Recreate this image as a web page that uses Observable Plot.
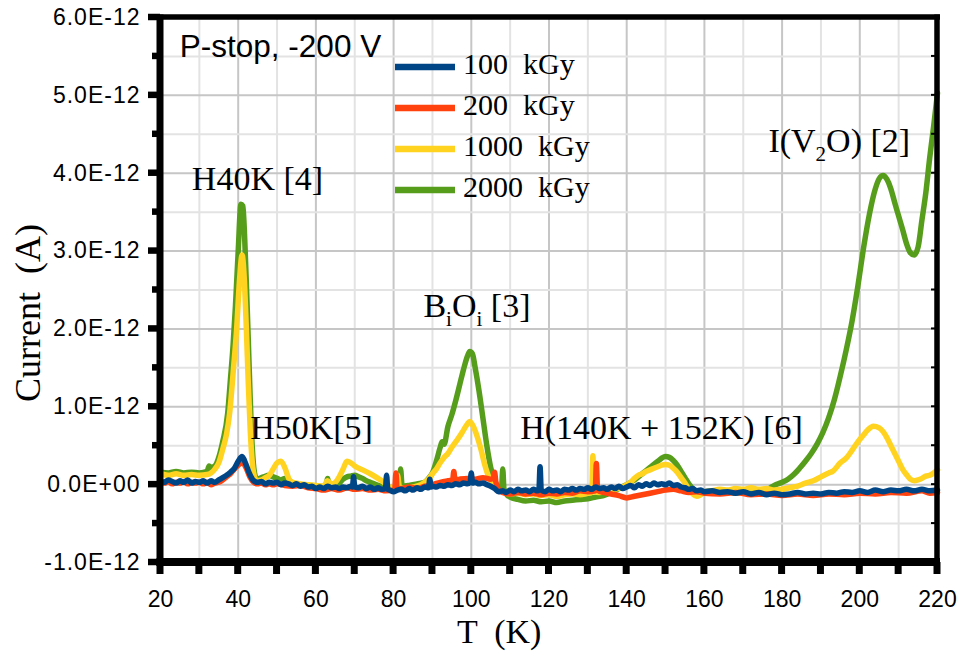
<!DOCTYPE html>
<html><head><meta charset="utf-8">
<script src="https://cdn.jsdelivr.net/npm/d3@7"></script>
<script src="https://cdn.jsdelivr.net/npm/@observablehq/plot@0.6"></script>
<style>body{margin:0;background:#fff}#chart{width:962px;height:651px}</style>
</head><body><div id="chart"></div>
<script>
// Current in units of 1E-12 A, temperature in K
const seriesNames = ["100  kGy", "200  kGy", "1000  kGy", "2000  kGy"];
const seriesColors = ["#004586", "#ff420e", "#ffd320", "#579d1c"];
const xTicksMajor = [20, 40, 60, 80, 100, 120, 140, 160, 180, 200, 220];
const xTicksMinor = [30, 50, 70, 90, 110, 130, 150, 170, 190, 210];
const yTicksMajor = [-1, 0, 1, 2, 3, 4, 5, 6];
const yTicksMinor = [-0.5, 0.5, 1.5, 2.5, 3.5, 4.5, 5.5];

const series100 = [[20,0.05],[21,0.03],[22,0.06],[23,0.04],[24,0.02],[25,0.05],[26,0.03],[27,0.06],[28,0.02],[29,0.04],[30,0.03],[31,0.05],[32,0.02],[33,0.05],[34,0.03],[35,0.06],[36,0.09],[37,0.12],[38,0.16],[39,0.21],[40,0.30],[41,0.36],[42,0.26],[43,0.13],[44,0.05],[45,0.03],[46,0.04],[47,0.01],[48,0.03],[49,0.02],[50,0.03],[51,0.00],[52,0.02],[53,0.01],[54,-0.01],[55,0.01],[56,-0.02],[57,0.00],[58,-0.03],[59,-0.02],[60,-0.05],[61,-0.03],[62,-0.05],[63,-0.02],[64,-0.04],[65,-0.03],[66,-0.05],[67,-0.03],[68,-0.04],[69,-0.02],[69.4,-0.03],[69.7,0.10],[70,-0.03],[71,-0.04],[72,-0.02],[73,-0.05],[74,-0.03],[75,-0.06],[76,-0.04],[77,-0.06],[77.9,-0.05],[78.2,0.12],[78.5,-0.06],[79,-0.07],[80,-0.09],[81,-0.07],[82,-0.06],[83,-0.08],[84,-0.05],[85,-0.07],[86,-0.04],[87,-0.06],[88,-0.03],[89,-0.04],[89.3,0.07],[89.7,-0.03],[90,-0.02],[91,-0.03],[92,-0.01],[93,-0.02],[94,0.00],[95,-0.01],[96,0.01],[97,0.00],[98,0.02],[99,0.01],[99.7,0.03],[100,0.15],[100.3,0.02],[101,0.03],[102,0.01],[103,0.02],[104,0.00],[105,-0.02],[106,-0.05],[107,-0.09],[108,-0.08],[109,-0.10],[110,-0.07],[111,-0.09],[112,-0.06],[113,-0.08],[114,-0.07],[115,-0.09],[116,-0.06],[117,-0.08],[117.4,-0.07],[117.7,0.23],[118,-0.07],[119,-0.09],[120,-0.06],[121,-0.08],[122,-0.07],[123,-0.09],[124,-0.06],[125,-0.07],[126,-0.05],[127,-0.07],[128,-0.05],[129,-0.06],[130,-0.04],[131,-0.06],[132,-0.03],[133,-0.05],[134,-0.04],[135,-0.06],[136,-0.03],[137,-0.05],[138,-0.02],[139,-0.05],[140,-0.03],[141,-0.01],[142,-0.04],[143,0.00],[144,-0.02],[145,0.01],[146,-0.01],[147,0.02],[148,0.00],[149,0.01],[150,0.00],[151,0.02],[152,-0.01],[153,0.00],[154,-0.03],[155,-0.04],[156,-0.06],[157,-0.05],[158,-0.08],[159,-0.07],[160,-0.09],[162,-0.08],[164,-0.10],[166,-0.09],[168,-0.11],[170,-0.09],[172,-0.12],[174,-0.10],[176,-0.13],[178,-0.11],[180,-0.13],[182,-0.12],[184,-0.10],[186,-0.12],[188,-0.11],[190,-0.12],[192,-0.10],[194,-0.11],[196,-0.09],[198,-0.10],[200,-0.08],[202,-0.10],[204,-0.07],[206,-0.09],[208,-0.07],[210,-0.08],[212,-0.06],[214,-0.08],[216,-0.06],[218,-0.08],[220,-0.07]];

const series200 = [[20,0.03],[21,0.02],[22,0.04],[23,0.01],[24,0.03],[25,0.02],[26,0.04],[27,0.01],[28,0.03],[29,0.02],[30,0.03],[31,0.01],[32,0.03],[33,0.00],[34,0.02],[35,0.03],[36,0.06],[37,0.10],[38,0.14],[39,0.20],[40,0.25],[41,0.29],[42,0.22],[43,0.10],[44,0.03],[45,0.01],[46,0.02],[47,0.00],[48,0.01],[49,0.00],[50,0.01],[52,-0.01],[54,-0.02],[56,-0.01],[58,-0.04],[60,-0.05],[62,-0.07],[64,-0.05],[66,-0.07],[68,-0.04],[70,-0.06],[72,-0.05],[74,-0.07],[76,-0.06],[78,-0.08],[80,-0.07],[80.3,-0.06],[80.6,0.15],[80.9,-0.06],[82,-0.05],[84,-0.03],[86,-0.05],[88,-0.02],[90,0.00],[92,0.03],[94,0.05],[95.2,0.06],[95.5,0.17],[95.8,0.06],[97,0.07],[99,0.08],[101,0.07],[103,0.09],[105,0.07],[105.7,0.08],[106,0.16],[106.3,0.04],[107,-0.06],[108,-0.10],[110,-0.12],[112,-0.10],[114,-0.12],[116,-0.11],[118,-0.13],[120,-0.11],[122,-0.12],[124,-0.10],[126,-0.11],[128,-0.08],[130,-0.09],[131.9,-0.08],[132.2,0.27],[132.5,-0.07],[134,-0.10],[136,-0.12],[138,-0.14],[140,-0.17],[142,-0.15],[144,-0.13],[146,-0.11],[148,-0.09],[150,-0.07],[152,-0.06],[154,-0.08],[156,-0.10],[158,-0.09],[160,-0.11],[164,-0.12],[168,-0.10],[172,-0.13],[176,-0.12],[180,-0.14],[184,-0.12],[188,-0.14],[192,-0.12],[196,-0.13],[200,-0.11],[204,-0.12],[208,-0.10],[212,-0.11],[216,-0.08],[218,-0.11],[220,-0.10]];

const series1000 = [[20,0.14],[22,0.12],[24,0.14],[26,0.12],[28,0.13],[30,0.12],[32,0.13],[33,0.15],[34,0.20],[35,0.28],[36,0.45],[37,0.65],[37.8,0.92],[38.8,1.50],[39.6,2.00],[40.3,2.60],[41,2.95],[41.5,2.70],[42.1,2.00],[42.6,1.30],[43.1,0.70],[43.6,0.30],[44.2,0.10],[44.8,0.05],[46,0.06],[47,0.09],[48,0.12],[49,0.20],[50,0.28],[51,0.30],[52,0.22],[53,0.08],[54,0.03],[55,0.02],[56,0.01],[58,0.00],[60,-0.01],[62,-0.02],[63,0.05],[64,0.01],[65,0.03],[66,0.10],[67,0.20],[68,0.30],[69,0.28],[70,0.24],[72,0.19],[74,0.14],[76,0.08],[77.5,0.03],[78.5,-0.02],[80,-0.04],[80.7,-0.03],[81,0.12],[81.5,-0.03],[83,-0.05],[85,-0.03],[87,0.00],[88,0.03],[89,0.07],[90,0.14],[91,0.20],[92,0.28],[93,0.35],[94,0.40],[95,0.48],[96,0.55],[97,0.62],[98,0.70],[99,0.78],[99.6,0.81],[100.5,0.75],[101.5,0.62],[102.5,0.45],[103.5,0.25],[104.5,0.10],[105.5,0.02],[106.5,-0.05],[108,-0.09],[110,-0.12],[112,-0.11],[114,-0.13],[116,-0.12],[118,-0.14],[120,-0.13],[122,-0.15],[124,-0.13],[126,-0.12],[128,-0.13],[130,-0.11],[131,-0.10],[131.3,0.37],[131.6,-0.09],[133,-0.10],[135,-0.08],[137,-0.06],[139,-0.03],[140,0.00],[141,0.03],[142,0.08],[143,0.12],[144,0.14],[145,0.17],[146,0.19],[147,0.21],[148,0.23],[149,0.25],[150,0.26],[151,0.25],[152,0.21],[153,0.16],[154,0.09],[155,0.02],[156,-0.06],[157,-0.12],[158,-0.15],[159,-0.13],[160,-0.10],[162,-0.08],[164,-0.06],[166,-0.07],[168,-0.05],[170,-0.06],[172,-0.04],[174,-0.06],[176,-0.05],[178,-0.07],[180,-0.06],[182,-0.04],[184,-0.02],[186,0.02],[188,0.05],[190,0.10],[192,0.15],[193,0.17],[195,0.28],[196.5,0.34],[198,0.44],[199.5,0.55],[201,0.64],[202,0.70],[203.5,0.75],[205,0.73],[206,0.68],[207,0.60],[208,0.50],[209,0.40],[210,0.30],[211,0.20],[212,0.13],[213,0.07],[214,0.05],[215,0.06],[216,0.08],[217,0.11],[218,0.12],[219,0.15],[220,0.19]];

const series2000 = [[20,0.16],[22,0.15],[24,0.17],[26,0.15],[28,0.16],[30,0.15],[32,0.17],[32.5,0.24],[33,0.22],[34,0.24],[35,0.35],[36,0.55],[37.3,0.92],[38,1.35],[38.7,1.80],[39.3,2.30],[40,3.00],[40.7,3.60],[41.2,3.58],[41.8,3.00],[42.3,2.30],[42.7,1.70],[43.1,1.10],[43.6,0.50],[44.2,0.15],[44.8,0.07],[45.5,0.08],[46.5,0.10],[48,0.12],[49,0.10],[50,0.08],[51,0.06],[52,0.08],[53,0.05],[54,0.02],[56,0.00],[58,-0.02],[60,-0.04],[62,-0.03],[62.7,-0.02],[63,0.08],[63.4,-0.02],[66,0.02],[67,0.07],[68,0.10],[69,0.11],[70,0.12],[71,0.10],[72,0.08],[73,0.05],[74,0.03],[76,-0.01],[78,-0.04],[80,-0.05],[81.5,-0.03],[81.8,0.20],[82.2,-0.02],[84,-0.01],[86,0.01],[88,0.03],[89,0.08],[90,0.15],[91,0.30],[92,0.48],[92.5,0.55],[93,0.52],[94,0.75],[95,0.90],[96,1.08],[97,1.28],[98,1.48],[99,1.65],[99.6,1.71],[100.3,1.68],[101,1.50],[102,1.20],[103,0.85],[104,0.50],[105,0.22],[106,0.05],[107,-0.03],[107.8,-0.02],[108.1,0.20],[108.4,-0.05],[109,-0.12],[110,-0.16],[112,-0.19],[114,-0.21],[116,-0.20],[118,-0.22],[120,-0.21],[122,-0.23],[124,-0.21],[126,-0.20],[128,-0.19],[130,-0.18],[132,-0.16],[134,-0.14],[136,-0.10],[138,-0.05],[140,0.00],[142,0.06],[144,0.14],[146,0.22],[148,0.30],[150,0.36],[151,0.35],[152,0.31],[153,0.25],[154,0.17],[155,0.09],[156,0.01],[157,-0.05],[158,-0.08],[160,-0.09],[162,-0.08],[164,-0.10],[166,-0.09],[168,-0.11],[170,-0.10],[172,-0.11],[174,-0.09],[176,-0.07],[177,-0.04],[178,-0.01],[180,0.03],[181.5,0.07],[183,0.13],[184.5,0.21],[186,0.30],[187.5,0.40],[189,0.52],[190.5,0.67],[192,0.86],[193.5,1.10],[195,1.40],[196.5,1.73],[198,2.10],[199.5,2.55],[201,3.05],[202.5,3.48],[204,3.80],[205,3.93],[206,3.97],[207,3.92],[208,3.80],[209,3.62],[210,3.45],[211,3.28],[212,3.10],[213,2.98],[214,2.95],[215,3.05],[216,3.40],[217,3.75],[218,4.20],[219,4.60],[220,5.03]];

// annotation anchors (data coordinates: K, 1E-12 A)
const annotations = [
  {T: 28.2, I: 3.78, parts: [["H40K [4]", false]]},
  {T: 43.2, I: 0.58, parts: [["H50K[5]", false]]},
  {T: 87.8, I: 2.15, parts: [["B", false], ["i", true], ["O", false], ["i", true], [" [3]", false]]},
  {T: 112.7, I: 0.58, parts: [["H(140K + 152K) [6]", false]]},
  {T: 176.6, I: 4.27, parts: [["I(V", false], ["2", true], ["O) [2]", false]]}
];
const conditionLabel = {T: 25.1, I: 5.49, text: "P-stop, -200 V"};

const allSeries = [series100, series200, series1000, series2000];
const rows = allSeries.map((s, k) => s.map(([T, I]) => ({T, I, s: seriesNames[k]})));
const fmt = v => v === 0 ? "0.0E+00" : `${v.toFixed(1)}E-12`;

const plot = Plot.plot({
  width: 962, height: 651,
  marginLeft: 160, marginRight: 25, marginTop: 17, marginBottom: 89,
  x: {domain: [20, 220], label: null},
  y: {domain: [-1, 6], label: null},
  style: {fontFamily: "'Liberation Sans', Arial, sans-serif", fontSize: "23px", background: "#fff", color: "#000", overflow: "visible"},
  marks: [
    Plot.gridX(xTicksMinor, {stroke: "#e3e3e3", strokeOpacity: 1, strokeWidth: 2}),
    Plot.gridX(xTicksMajor, {stroke: "#c6c6c6", strokeOpacity: 1, strokeWidth: 2}),
    Plot.gridY(yTicksMinor, {stroke: "#e3e3e3", strokeOpacity: 1, strokeWidth: 2}),
    Plot.gridY(yTicksMajor, {stroke: "#c6c6c6", strokeOpacity: 1, strokeWidth: 2}),
    ...[3, 2, 1, 0].map(k => Plot.line(rows[k], {x: "T", y: "I", stroke: seriesColors[k], strokeWidth: 5.5, strokeLinejoin: "round", strokeLinecap: "round", curve: "monotone-x"})),
    Plot.axisX(xTicksMajor, {tickSize: 0, tickPadding: 28, fontSize: 23, label: null}),
    Plot.axisY(yTicksMajor, {tickSize: 0, tickPadding: 20, tickFormat: fmt, fontSize: 23, label: null})
  ]
});

const svg = d3.select(plot);
const sx = plot.scale("x"), sy = plot.scale("y");
svg.selectAll('g[aria-label="y-axis tick label"] text').style("letter-spacing", "1px");

// frame and ticks (thick), positioned through the plot's scales
const X0 = sx.apply(20), X1 = sx.apply(220), Y0 = sy.apply(-1), Y1 = sy.apply(6);
const frame = svg.append("g").attr("stroke", "#000").attr("stroke-linecap", "butt");
for (const v of xTicksMajor.concat(xTicksMinor)) {
  const x = sx.apply(v);
  frame.append("line").attr("x1", x).attr("x2", x).attr("y1", Y0).attr("y2", Y0 + 12).attr("stroke-width", 7);
}
for (const v of yTicksMajor) {
  const y = sy.apply(v);
  frame.append("line").attr("x1", X0 - 12).attr("x2", X0).attr("y1", y).attr("y2", y).attr("stroke-width", 6.5);
}
for (const v of yTicksMinor) {
  const y = sy.apply(v);
  frame.append("line").attr("x1", X0 - 8).attr("x2", X0).attr("y1", y).attr("y2", y).attr("stroke-width", 6.5);
}
for (const v of yTicksMajor.concat(yTicksMinor)) {
  const y = sy.apply(v);
  frame.append("line").attr("x1", X1 - 6).attr("x2", X1).attr("y1", y).attr("y2", y).attr("stroke-width", 2);
}
frame.append("line").attr("x1", X0 - 3).attr("x2", X1 + 3).attr("y1", Y1).attr("y2", Y1).attr("stroke-width", 5.5);
frame.append("line").attr("x1", X1).attr("x2", X1).attr("y1", Y1 - 2.5).attr("y2", Y0).attr("stroke-width", 5.5);
frame.append("line").attr("x1", X0).attr("x2", X0).attr("y1", Y1 - 2.5).attr("y2", Y0 + 4).attr("stroke-width", 7);
frame.append("line").attr("x1", X0 - 3.5).attr("x2", X1 + 3).attr("y1", Y0).attr("y2", Y0).attr("stroke-width", 8);

const serif = "'Liberation Serif', 'Times New Roman', serif";

// condition label
svg.append("text").attr("x", sx.apply(conditionLabel.T)).attr("y", sy.apply(conditionLabel.I))
  .attr("text-anchor", "start")
  .attr("font-family", "'Liberation Sans', Arial, sans-serif").attr("font-size", 31.5).attr("fill", "#000")
  .text(conditionLabel.text);

// peak annotations
for (const a of annotations) {
  const t = svg.append("text").attr("x", sx.apply(a.T)).attr("y", sy.apply(a.I))
    .attr("text-anchor", "start")
    .attr("font-family", serif).attr("font-size", 34)
    .attr("fill", "#000").style("white-space", "pre");
  let shifted = false;
  for (const [str, sub] of a.parts) {
    const ts = t.append("tspan").text(str);
    if (sub && !shifted) { ts.attr("dy", 9).attr("font-size", 21); shifted = true; }
    else if (!sub && shifted) { ts.attr("dy", -9); shifted = false; }
    else if (sub) ts.attr("font-size", 21);
  }
}

// legend
const legendY = [67, 108, 149, 190];
seriesNames.forEach((name, k) => {
  svg.append("line").attr("x1", 395).attr("x2", 455).attr("y1", legendY[k]).attr("y2", legendY[k])
    .attr("stroke", seriesColors[k]).attr("stroke-width", 6.5);
  svg.append("text").attr("x", 463).attr("y", legendY[k] + 7).attr("text-anchor", "start")
    .attr("font-family", serif).attr("font-size", 30)
    .attr("fill", "#000").style("white-space", "pre").text(name);
});

// axis titles
svg.append("text").attr("transform", "translate(40,313) rotate(-90)").attr("text-anchor", "middle")
  .attr("font-family", serif).attr("font-size", 36)
  .attr("fill", "#000").style("white-space", "pre").text("Current  (A)");
svg.append("text").attr("x", 457).attr("y", 643).attr("text-anchor", "start")
  .attr("font-family", serif).attr("font-size", 34)
  .attr("fill", "#000").style("white-space", "pre").text("T  (K)");

document.getElementById("chart").append(plot);
</script>
</body></html>
